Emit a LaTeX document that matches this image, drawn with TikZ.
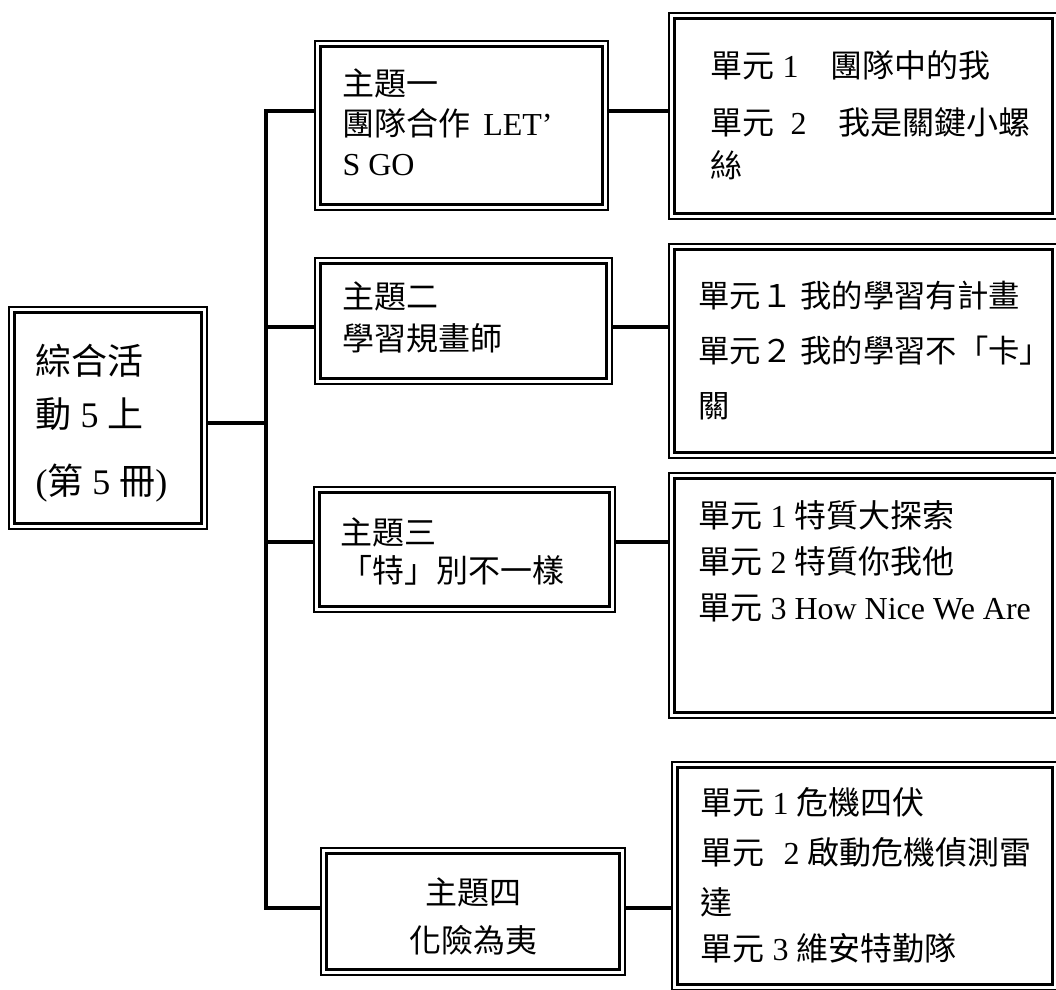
\documentclass[tikz,border=0pt]{standalone}
\usepackage{fontspec}
\setmainfont{Liberation Serif}
\newfontfamily\zhfont{Noto Sans CJK TC}
\newcommand{\zh}[1]{{\zhfont #1}}
\usetikzlibrary{fit,calc}

\tikzset{every picture/.style={line width=0.75pt}}

\begin{document}
\begin{tikzpicture}[x=0.75pt,y=0.75pt,yscale=-1,xscale=1,
    frame/.style={draw, line width=1.1pt, inner sep=0pt, outer sep=0pt},
    innerframe/.style={line width=2.5pt},
    link/.style={line width=3pt},
    txt/.style={anchor=base west, inner sep=0pt, align=left, font=\fontsize{24}{30}\selectfont}]
    \useasboundingbox (0,0) rectangle (1056,989);
    \clip (0,0) rectangle (1056,989);

    %Shape: Rect (outer thin lines)
    \node [frame, fit={(9,307) (207,529)}] (book) {};
    \node [frame, fit={(315,41) (608,210)}] (themeA) {};
    \node [frame, fit={(315,258) (612,384)}] (themeB) {};
    \node [frame, fit={(314,487) (615,612)}] (themeC) {};
    \node [frame, fit={(321,848) (625,975)}] (themeD) {};
    \node [frame, fit={(669,13) (1058,219)}] (unitA) {};
    \node [frame, fit={(669,244) (1058,458)}] (unitB) {};
    \node [frame, fit={(669,473) (1058,718)}] (unitC) {};
    \node [frame, fit={(672,762) (1058,990)}] (unitD) {};

    %Shape: Rect (inner thick lines)
    \foreach \n in {book,themeA,themeB,themeC,themeD,unitA,unitB,unitC,unitD}
        \draw [innerframe] ($(\n.north west)+(5.5,5.5)$) rectangle ($(\n.south east)+(-5.5,-5.5)$);

    %Straight Lines
    \coordinate (jbook) at (266,423);
    \coordinate (jA) at (266,111);
    \coordinate (jB) at (266,327);
    \coordinate (jC) at (266,542);
    \coordinate (jD) at (266,908);
    \draw [link] (book.east |- jbook) -- (jbook);
    \draw [link] (jA -| themeA.west) -- (jA) -- (jD) -- (jD -| themeD.west);
    \draw [link] (jB) -- (jB -| themeB.west);
    \draw [link] (jC) -- (jC -| themeC.west);
    \draw [link] (jA -| themeA.east) -- (jA -| unitA.west);
    \draw [link] (jB -| themeB.east) -- (jB -| unitB.west);
    \draw [link] (jC -| themeC.east) -- (jC -| unitC.west);
    \draw [link] (jD -| themeD.east) -- (jD -| unitD.west);

    % Text Node (anchored at the baseline of the last line)
    \node [txt, font=\fontsize{27}{40}\selectfont] (booklbl) at (35,494) {\zh{綜合活}\\\zh{動} 5 \zh{上}\\[10pt](\zh{第} 5 \zh{冊})};
    % Text Node
    \node [txt] (themeAlbl) at (342,175) {\zh{主題一}\\\zh{團隊合作}\hspace{0.4em}LET’\\S GO};
    % Text Node
    \node [txt, font=\fontsize{24}{31}\selectfont] (themeBlbl) at (342,350) {\zh{主題二}\\\zh{學習規畫師}};
    % Text Node
    \node [txt, font=\fontsize{24}{28.5}\selectfont] (themeClbl) at (340,582) {\zh{主題三}\\\zh{「特」別不一樣}};
    % Text Node
    \node [txt, anchor=base, align=center, font=\fontsize{24}{36}\selectfont] (themeDlbl) at (themeD.center |- 0,952) {\zh{主題四}\\\zh{化險為夷}};
    % Text Node
    \node [txt, font=\fontsize{24}{32}\selectfont] (unitAlbl) at (710,177) {\zh{單元} 1\hspace{1em}\zh{團隊中的我}\\[10.75pt]\zh{單元}\hspace{0.5em}2\hspace{1em}\zh{我是關鍵小螺}\\\zh{絲}};
    % Text Node
    \node [txt, font=\fontsize{23.5}{41}\selectfont] (unitBlbl) at (698,417) {\zh{單元１} \zh{我的學習有計畫}\\\zh{單元２} \zh{我的學習不「卡」}\\\zh{關}};
    % Text Node
    \node [txt, font=\fontsize{24}{34.5}\selectfont] (unitClbl) at (698,619) {\zh{單元} 1 \zh{特質大探索}\\\zh{單元} 2 \zh{特質你我他}\\\zh{單元} 3 How Nice We Are};
    % Text Node
    \node [txt, font=\fontsize{24}{37.5}\selectfont] (unitDlbl) at (700,960) {\zh{單元} 1 \zh{危機四伏}\\\zh{單元}\hspace{0.6em}2 \zh{啟動危機偵測雷}\\\zh{達}\\[-3.5pt]\zh{單元} 3 \zh{維安特勤隊}};

\end{tikzpicture}
\end{document}
